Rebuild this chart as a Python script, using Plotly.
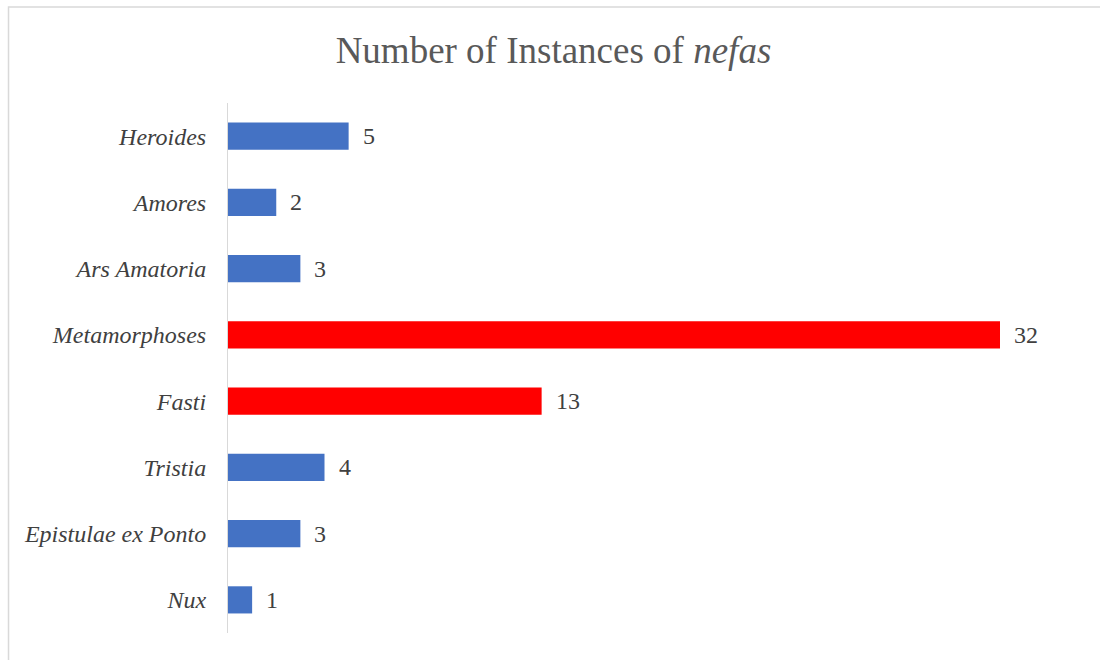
import plotly.graph_objects as go

categories = ["Heroides", "Amores", "Ars Amatoria", "Metamorphoses", "Fasti",
              "Tristia", "Epistulae ex Ponto", "Nux"]
values = [5, 2, 3, 32, 13, 4, 3, 1]
highlight = [False, False, False, True, True, False, False, False]

BLUE = "#4472C4"
RED = "#FF0000"
colors = [RED if h else BLUE for h in highlight]
FONT = "Liberation Serif"

fig = go.Figure()
fig.add_trace(go.Bar(
    x=values, y=categories, orientation="h",
    marker=dict(color=colors, line=dict(width=0)),
    hoverinfo="x+y",
))

for c, v in zip(categories, values):
    fig.add_annotation(x=v, y=c, text=str(v), showarrow=False,
                       xanchor="left", xshift=12,
                       font=dict(family=FONT, size=24, color="#404040"))

fig.update_layout(
    width=1100, height=660,
    margin=dict(l=228, r=100, t=103, b=27),
    paper_bgcolor="white", plot_bgcolor="white",
    bargap=0.59,
    showlegend=False,
    font=dict(family=FONT),
    title=dict(text="Number of Instances of <i>nefas</i>",
               x=0.4216, xref="paper", xanchor="center",
               y=1 - 50 / 660, yref="container", yanchor="middle",
               font=dict(family=FONT, size=37, color="#595959")),
    xaxis=dict(range=[0, 32], visible=False, fixedrange=True),
    yaxis=dict(autorange="reversed", showline=True, linecolor="#d9d9d9",
               linewidth=1, showgrid=False, zeroline=False,
               ticks="outside", ticklen=16, tickcolor="rgba(0,0,0,0)",
               tickfont=dict(family=FONT, size=24, color="#404040", style="italic"),
               fixedrange=True),
    shapes=[dict(type="rect", xref="paper", yref="paper",
                 x0=-0.2843, x1=1.14, y0=-0.06, y1=1.1811,
                 line=dict(color="#d9d9d9", width=1.5), fillcolor="rgba(0,0,0,0)",
                 layer="below")],
)
fig.update_traces(cliponaxis=False)

fig.write_html("out.html")
